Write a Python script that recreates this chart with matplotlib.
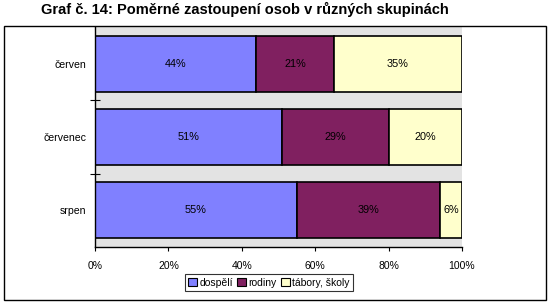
import matplotlib
matplotlib.use("Agg")
import matplotlib.pyplot as plt
import numpy as np
from matplotlib.patches import Rectangle

months = ["červen", "červenec", "srpen"]
series_names = ["dospělí", "rodiny", "tábory, školy"]
dospeli = [44, 51, 55]
rodiny = [21, 29, 39]
tabory = [35, 20, 6]
xticks = [0, 20, 40, 60, 80, 100]
title = "Graf č. 14: Poměrné zastoupení osob v různých skupinách"

colors = ["#8080FF", "#802060", "#FFFFCC"]

plt.rcParams['font.family'] = ['Liberation Sans', 'DejaVu Sans']

W, H = 550, 305
fig = plt.figure(figsize=(W / 100, H / 100), dpi=100)

# outer frame
fig.patches.append(Rectangle((4 / W, 1 - 300 / H), 542 / W, 274 / H,
                             transform=fig.transFigure, fill=False,
                             edgecolor="black", linewidth=1.0, zorder=0))

ax = fig.add_axes([95 / W, 1 - 247 / H, (462 - 95) / W, 220 / H])
ax.set_facecolor("#E3E3E3")

ypos = np.arange(len(months))
left = np.zeros(len(months))
for vals, col, name in zip([dospeli, rodiny, tabory], colors, series_names):
    vals = np.array(vals, dtype=float)
    bars = ax.barh(ypos, vals, left=left, height=0.76, color=col,
                   edgecolor="black", linewidth=1.2, label=name)
    for b, v, l in zip(bars, vals, left):
        ax.text(l + v / 2, b.get_y() + b.get_height() / 2, f"{int(v)}%",
                ha="center", va="center", fontsize=7.8, color="black")
    left += vals

ax.set_xlim(0, 100)
ax.set_ylim(len(months) - 0.5, -0.5)
ax.set_xticks(xticks)
ax.set_xticklabels([f"{t}%" for t in xticks], fontsize=7.5)
ax.set_yticks(ypos)
ax.set_yticklabels(months, fontsize=7.6)
ax.tick_params(axis="y", which="major", length=0, pad=6)
ax.set_yticks([0.5, 1.5], minor=True)
ax.tick_params(axis="y", which="minor", direction="inout", length=7, width=0.8)
ax.tick_params(axis="x", direction="out", length=3, width=0.8, pad=7)

for s in ["top", "right"]:
    ax.spines[s].set_visible(False)
for s in ["left", "bottom"]:
    ax.spines[s].set_linewidth(1.0)

fig.text(245 / W, 1 - 9 / H, title, ha="center", va="center",
         fontsize=10.5, fontweight="bold")

leg = fig.legend(loc="center", bbox_to_anchor=(269 / W, 1 - 282.5 / H),
                 ncol=3, fontsize=7.5, frameon=True, fancybox=False,
                 edgecolor="black", handlelength=0.8, handleheight=0.8,
                 handletextpad=0.25, columnspacing=0.45, borderpad=0.35,
                 borderaxespad=0)
leg.get_frame().set_linewidth(0.8)
for h in leg.legend_handles:
    h.set_linewidth(0.8)

fig.savefig("out.png", dpi=100)
